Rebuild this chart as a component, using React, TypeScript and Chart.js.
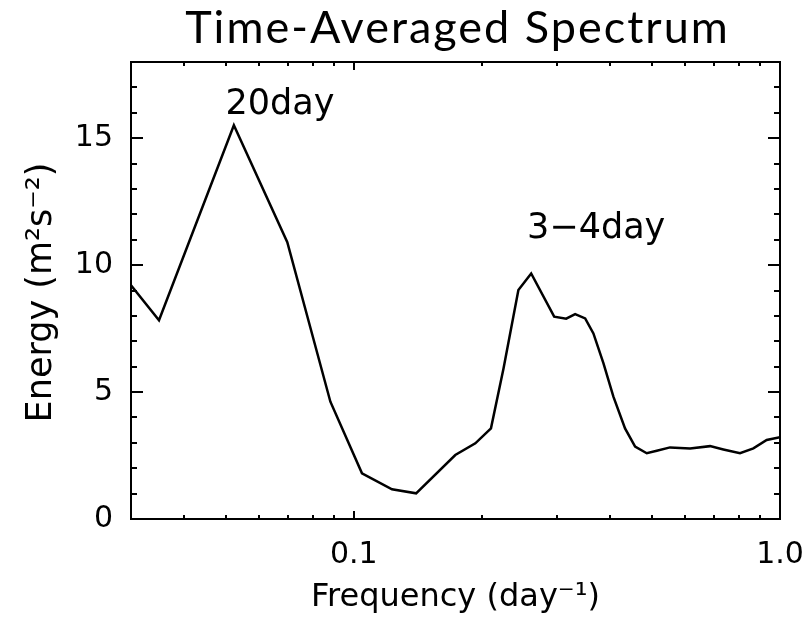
import React, { useEffect, useRef } from 'react';
import { Chart, registerables } from 'chart.js';

Chart.register(...registerables);

// Frequency (day^-1) and time-averaged energy (m^2 s^-2)
const frequency = [
  0.03, 0.0349, 0.0523, 0.0698, 0.0881, 0.1045, 0.1229, 0.14, 0.173, 0.1928,
  0.2098, 0.2245, 0.2433, 0.2607, 0.2952, 0.315, 0.3306, 0.349, 0.3649, 0.3853,
  0.4065, 0.4329, 0.4571, 0.4868, 0.5139, 0.5521, 0.6152, 0.6853, 0.7364, 0.8057,
  0.866, 0.9307, 1.0,
];
const energy = [
  9.21, 7.83, 15.51, 10.9, 4.62, 1.8, 1.17, 1.01, 2.52, 2.98,
  3.57, 5.93, 9.02, 9.67, 7.97, 7.89, 8.07, 7.9, 7.31, 6.13,
  4.82, 3.57, 2.85, 2.59, 2.69, 2.82, 2.78, 2.87, 2.74, 2.59,
  2.78, 3.11, 3.22,
];

const xTickValues = [
  0.03, 0.04, 0.05, 0.06, 0.07, 0.08, 0.09, 0.1,
  0.2, 0.3, 0.4, 0.5, 0.6, 0.7, 0.8, 0.9, 1.0,
];
const xMajorTicks = [0.1, 1.0];
const xMajorLabels = ['0.1', '1.0'];
const yTickValues = [0, 1, 2, 3, 4, 5, 6, 7, 8, 9, 10, 11, 12, 13, 14, 15, 16, 17, 18];
const yMajorStep = 5;

const titleText = 'Time-Averaged Spectrum';
const xTitle = 'Frequency (day\u207B\u00B9)';
const yTitle = 'Energy (m\u00B2s\u207B\u00B2)';
const annotationTexts = ['20day', '3\u22124day'];
const annotationX = [0.05, 0.255];
const annotationY = [15.95, 11.05];

const AXIS_FONT = '"DejaVu Sans", sans-serif';

const framePlugin = {
  id: 'idlFrame',
  afterDraw(chart: any) {
    const { ctx, chartArea, scales } = chart;
    const { left, right, top, bottom } = chartArea;
    const xs = scales.x;
    const ys = scales.y;
    ctx.save();
    ctx.strokeStyle = '#000';
    ctx.lineWidth = 2;
    ctx.strokeRect(left, top, right - left, bottom - top);
    ctx.beginPath();
    xTickValues.forEach((v) => {
      const px = Math.round(xs.getPixelForValue(v));
      const major = xMajorTicks.some((m) => Math.abs(m - v) < 1e-9);
      const len = major ? 8 : 4;
      ctx.moveTo(px, bottom);
      ctx.lineTo(px, bottom - len);
      ctx.moveTo(px, top);
      ctx.lineTo(px, top + len);
    });
    yTickValues.forEach((v) => {
      const py = Math.round(ys.getPixelForValue(v));
      const len = v % yMajorStep === 0 ? 12 : 6;
      ctx.moveTo(left, py);
      ctx.lineTo(left + len, py);
      ctx.moveTo(right, py);
      ctx.lineTo(right - len, py);
    });
    ctx.stroke();

    ctx.fillStyle = '#000';
    // title
    ctx.save();
    ctx.font = '45px Lato, "Open Sans", sans-serif';
    (ctx as any).letterSpacing = '2px';
    ctx.textAlign = 'center';
    ctx.textBaseline = 'alphabetic';
    ctx.fillText(titleText, (left + right) / 2 + 2, 43);
    ctx.restore();

    // x axis title
    ctx.textAlign = 'center';
    ctx.textBaseline = 'alphabetic';
    ctx.font = `32px ${AXIS_FONT}`;
    ctx.fillText(xTitle, (left + right) / 2, 606);

    // y axis title
    ctx.save();
    ctx.translate(51, (top + bottom) / 2 + 2);
    ctx.rotate(-Math.PI / 2);
    ctx.font = `35px ${AXIS_FONT}`;
    ctx.fillText(yTitle, 0, 0);
    ctx.restore();

    // annotations
    ctx.font = `35px ${AXIS_FONT}`;
    ctx.textAlign = 'left';
    annotationTexts.forEach((t, i) => {
      ctx.fillText(t, xs.getPixelForValue(annotationX[i]), ys.getPixelForValue(annotationY[i]));
    });
    ctx.restore();
  },
};

export default function App() {
  const canvasRef = useRef<HTMLCanvasElement | null>(null);

  useEffect(() => {
    if (!canvasRef.current) return;
    const chart = new Chart(canvasRef.current, {
      type: 'line',
      data: {
        datasets: [
          {
            data: frequency.map((f, i) => ({ x: f, y: energy[i] })),
            borderColor: '#000',
            borderWidth: 2.5,
            pointRadius: 0,
            tension: 0,
            fill: false,
          },
        ],
      },
      options: {
        animation: false,
        responsive: true,
        maintainAspectRatio: false,
        layout: { padding: { top: 62, right: 30, left: 0, bottom: 0 } },
        plugins: {
          legend: { display: false },
          tooltip: { enabled: false },
          title: { display: false },
        },
        scales: {
          x: {
            type: 'logarithmic',
            min: 0.03,
            max: 1.0,
            grid: { display: false, drawTicks: false },
            border: { display: false },
            afterBuildTicks: (scale: any) => {
              scale.ticks = xTickValues.map((v) => ({ value: v }));
            },
            afterFit: (scale: any) => {
              scale.height = 102;
              scale.paddingLeft = 0;
              scale.paddingRight = 0;
            },
            ticks: {
              autoSkip: false,
              maxRotation: 0,
              minRotation: 0,
              padding: 18,
              color: '#000',
              font: { family: AXIS_FONT, size: 30 },
              callback: (value: any) => {
                const idx = xMajorTicks.findIndex((m) => Math.abs(m - Number(value)) < 1e-9);
                return idx >= 0 ? xMajorLabels[idx] : '';
              },
            },
          },
          y: {
            type: 'linear',
            min: 0,
            max: 18,
            grid: { display: false, drawTicks: false },
            border: { display: false },
            afterBuildTicks: (scale: any) => {
              scale.ticks = yTickValues.map((v) => ({ value: v }));
            },
            afterFit: (scale: any) => {
              scale.width = 131;
              scale.paddingTop = 0;
              scale.paddingBottom = 0;
            },
            ticks: {
              autoSkip: false,
              padding: 18,
              color: '#000',
              font: { family: AXIS_FONT, size: 30 },
              callback: (value: any) => (Number(value) % yMajorStep === 0 ? String(value) : ''),
            },
          },
        },
      },
      plugins: [framePlugin],
    });
    return () => chart.destroy();
  }, []);

  return (
    <div style={{ position: 'fixed', left: 0, top: 0, width: 810, height: 621, background: '#fff' }}>
      <canvas ref={canvasRef} />
    </div>
  );
}
